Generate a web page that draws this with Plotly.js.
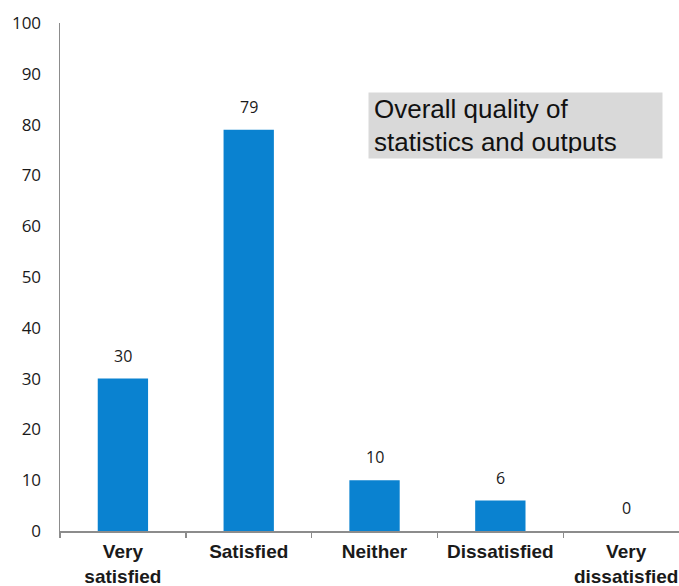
<!DOCTYPE html>
<html>
<head>
<meta charset="utf-8">
<script src="https://cdn.plot.ly/plotly-3.0.1.min.js"></script>
<style>html,body{margin:0;padding:0;background:#fff;}#chart{width:679px;height:586px;}</style>
</head>
<body>
<div id="chart"></div>
<script>
const categories = ["Very<br>satisfied", "Satisfied", "Neither", "Dissatisfied", "Very<br>dissatisfied"];
const values = [30, 79, 10, 6, 0];
const yTicks = [0, 10, 20, 30, 40, 50, 60, 70, 80, 90, 100];
const boxTitle = "Overall quality of<br>statistics and outputs";

const trace = {
  type: "bar",
  x: categories,
  y: values,
  width: 0.4,
  marker: {color: "#0a82d0"},
  hoverinfo: "none"
};

const labelAnnotations = categories.map((c, i) => ({
  x: c, y: values[i], xref: "x", yref: "y",
  text: String(values[i]), showarrow: false,
  yshift: 23, yanchor: "middle",
  font: {family: "Open Sans", size: 16, color: "#1a1a1a"}
}));

const layout = {
  width: 679, height: 586,
  margin: {l: 60, r: 0, t: 23, b: 55, pad: 0},
  paper_bgcolor: "#ffffff", plot_bgcolor: "#ffffff",
  showlegend: false,
  bargap: 0.6,
  xaxis: {
    type: "category",
    range: [-0.5, 4.42],
    showline: true, linecolor: "#8c8c8c", linewidth: 1.5,
    ticks: "outside", tickson: "boundaries", ticklen: 5, tickcolor: "#8c8c8c", tickwidth: 1.5,
    ticklabelstandoff: 3,
    showgrid: false, zeroline: false,
    tickfont: {family: "Liberation Sans", size: 19, color: "#1a1a1a", weight: "bold"}
  },
  yaxis: {
    range: [0, 100],
    tickvals: yTicks, ticktext: yTicks.map(String),
    showline: true, linecolor: "#8c8c8c", linewidth: 1.5,
    ticks: "outside", ticklen: 14, tickcolor: "rgba(0,0,0,0)",
    showgrid: false, zeroline: false,
    tickfont: {family: "Open Sans", size: 17, color: "#1a1a1a"}
  },
  annotations: labelAnnotations.concat([{
    xref: "paper", yref: "paper",
    x: 0.4976, y: 0.864, xanchor: "left", yanchor: "top",
    text: boxTitle, showarrow: false, align: "left",
    width: 283, height: 55, borderpad: 5,
    bgcolor: "#d9d9d9",
    font: {family: "Liberation Sans", size: 26, color: "#111111"}
  }])
};

Plotly.newPlot("chart", [trace], layout, {displayModeBar: false, staticPlot: true});
</script>
</body>
</html>
